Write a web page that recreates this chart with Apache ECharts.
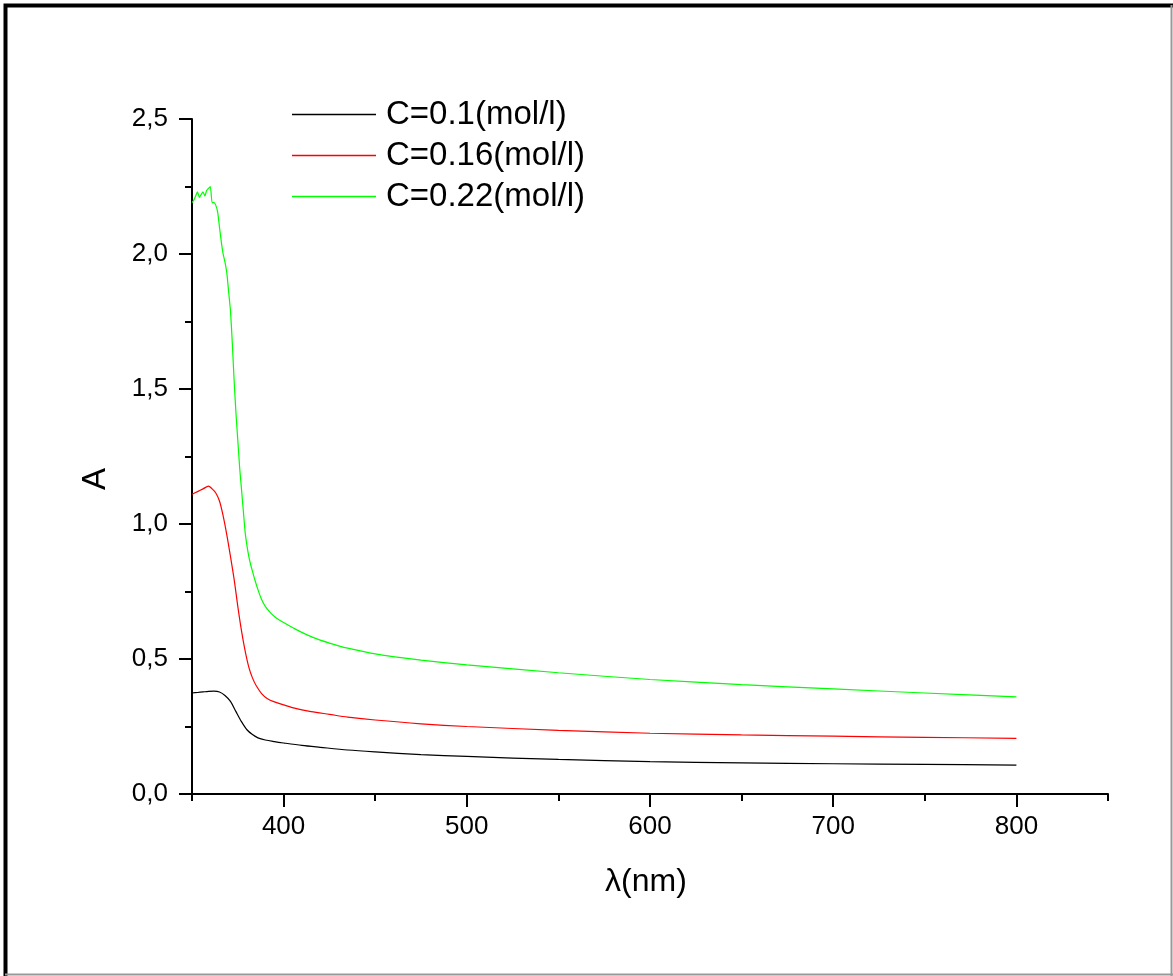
<!DOCTYPE html>
<html>
<head>
<meta charset="utf-8">
<script src="https://cdn.jsdelivr.net/npm/echarts@6/dist/echarts.min.js"></script>
<style>
html,body{margin:0;padding:0;background:#fff;}
#chart{width:1173px;height:976px;}
</style>
</head>
<body>
<div id="chart"></div>
<script>
// ---- data ----
const seriesNames = ['C=0.1(mol/l)', 'C=0.16(mol/l)', 'C=0.22(mol/l)'];

const blackX = [350,353,356,359,362,365,368,371,374,377,380,383,386,390,395,400,410,420,435,450,475,500,550,600,650,700,750,800];
const blackY = [0.374,0.376,0.378,0.380,0.381,0.378,0.365,0.343,0.305,0.268,0.238,0.220,0.208,0.200,0.194,0.189,0.180,0.173,0.163,0.156,0.146,0.139,0.128,0.120,0.115,0.112,0.110,0.107];

const redX = [350,353,356,359,361,363,365,367,369,371,373,375,377,379,381,383,385,388,391,395,400,407,415,425,435,450,475,500,550,600,650,700,750,800];
const redY = [1.110,1.120,1.130,1.140,1.130,1.115,1.085,1.030,0.960,0.880,0.795,0.695,0.605,0.530,0.470,0.430,0.402,0.372,0.354,0.341,0.330,0.316,0.305,0.295,0.285,0.274,0.260,0.250,0.236,0.225,0.219,0.214,0.210,0.206];

const greenX = [350,351,352,353,354,355,356,357,358,359,360,361,362,363,364,365,366,367,368,369,370,371,372,373,374,375,376,377,378,379,380,381,382,383,384,386,388,390,393,396,400,408,416,425,435,450,475,500,550,600,650,700,750,800];
const greenY = [2.19,2.20,2.215,2.23,2.21,2.22,2.23,2.215,2.235,2.243,2.25,2.19,2.19,2.18,2.155,2.10,2.045,2.00,1.97,1.93,1.86,1.79,1.67,1.53,1.41,1.31,1.21,1.13,1.05,0.97,0.92,0.88,0.85,0.825,0.80,0.757,0.72,0.695,0.670,0.652,0.635,0.605,0.580,0.559,0.540,0.519,0.496,0.478,0.449,0.424,0.405,0.389,0.374,0.360];

const xMajorTicks = [400,500,600,700,800];
const xMinorTicks = [350,450,550,650,750,850];

// ---- chart ----
const pairs = (xs, ys) => xs.map((x, i) => [x, ys[i]]);
const FONT = 'Liberation Sans, Arial, sans-serif';

const chart = echarts.init(document.getElementById('chart'), null, {renderer: 'canvas'});
chart.setOption({
  animation: false,
  backgroundColor: '#fff',
  grid: {left: 192, top: 119, right: 65, bottom: 182, containLabel: false},
  legend: {
    orient: 'vertical',
    left: 287,
    top: 91,
    icon: 'rect',
    itemWidth: 84,
    itemHeight: 1.5,
    itemGap: 4,
    textStyle: {fontFamily: FONT, fontSize: 33, color: '#000', lineHeight: 37, padding: [0,0,0,5]},
    data: seriesNames
  },
  xAxis: [{
    type: 'value',
    min: 350, max: 850, interval: 50,
    position: 'bottom',
    name: 'λ(nm)',
    nameLocation: 'middle',
    nameGap: 72,
    nameTextStyle: {fontFamily: FONT, fontSize: 32, color: '#000', padding: [0, 8, 0, 0]},
    axisLine: {show: true, onZero: false, lineStyle: {color: '#000', width: 2}},
    axisTick: {show: true, inside: false, length: 13, lineStyle: {color: '#000', width: 2}, customValues: xMajorTicks},
    axisLabel: {show: true, margin: 20, fontFamily: FONT, fontSize: 26, color: '#000', customValues: xMajorTicks},
    splitLine: {show: false}
  }, {
    type: 'value',
    min: 350, max: 850, interval: 50,
    position: 'bottom',
    axisLine: {show: false},
    axisTick: {show: true, inside: false, length: 7, lineStyle: {color: '#000', width: 2}, customValues: xMinorTicks},
    axisLabel: {show: false},
    splitLine: {show: false}
  }],
  yAxis: {
    type: 'value',
    min: 0, max: 2.5, interval: 0.5,
    name: 'A',
    nameLocation: 'middle',
    nameGap: 80,
    nameTextStyle: {fontFamily: FONT, fontSize: 33, color: '#000', padding: [0, 45, 0, 0]},
    axisLine: {show: true, onZero: false, lineStyle: {color: '#000', width: 2}},
    axisTick: {show: true, inside: false, length: 13, lineStyle: {color: '#000', width: 2}},
    minorTick: {show: true, splitNumber: 2, length: 7, lineStyle: {color: '#000', width: 2}},
    axisLabel: {margin: 24, fontFamily: FONT, fontSize: 26, color: '#000',
      formatter: v => v.toFixed(1).replace('.', ',')},
    splitLine: {show: false},
    minorSplitLine: {show: false}
  },
  series: [
    {name: seriesNames[0], type: 'line', xAxisIndex: 0, symbol: 'none', smooth: 0.3,
     lineStyle: {color: '#000000', width: 1.2}, itemStyle: {color: '#000000'}, data: pairs(blackX, blackY)},
    {name: seriesNames[1], type: 'line', xAxisIndex: 0, symbol: 'none', smooth: 0.3,
     lineStyle: {color: '#ff0000', width: 1.2}, itemStyle: {color: '#ff0000'}, data: pairs(redX, redY)},
    {name: seriesNames[2], type: 'line', xAxisIndex: 0, symbol: 'none', smooth: 0.2,
     lineStyle: {color: '#00ff00', width: 1.2}, itemStyle: {color: '#00ff00'}, data: pairs(greenX, greenY)}
  ],
  graphic: [
    {type: 'polyline', silent: true, shape: {points: [[5.5, 976], [5.5, 5.5], [1173, 5.5]]},
     style: {stroke: '#000', lineWidth: 4, fill: null}},
    {type: 'line', silent: true, shape: {x1: 5, y1: 974.5, x2: 1173, y2: 974.5},
     style: {stroke: '#999', lineWidth: 2}},
    {type: 'line', silent: true, shape: {x1: 1171.5, y1: 5, x2: 1171.5, y2: 976},
     style: {stroke: '#999', lineWidth: 2}}
  ]
});
</script>
</body>
</html>
